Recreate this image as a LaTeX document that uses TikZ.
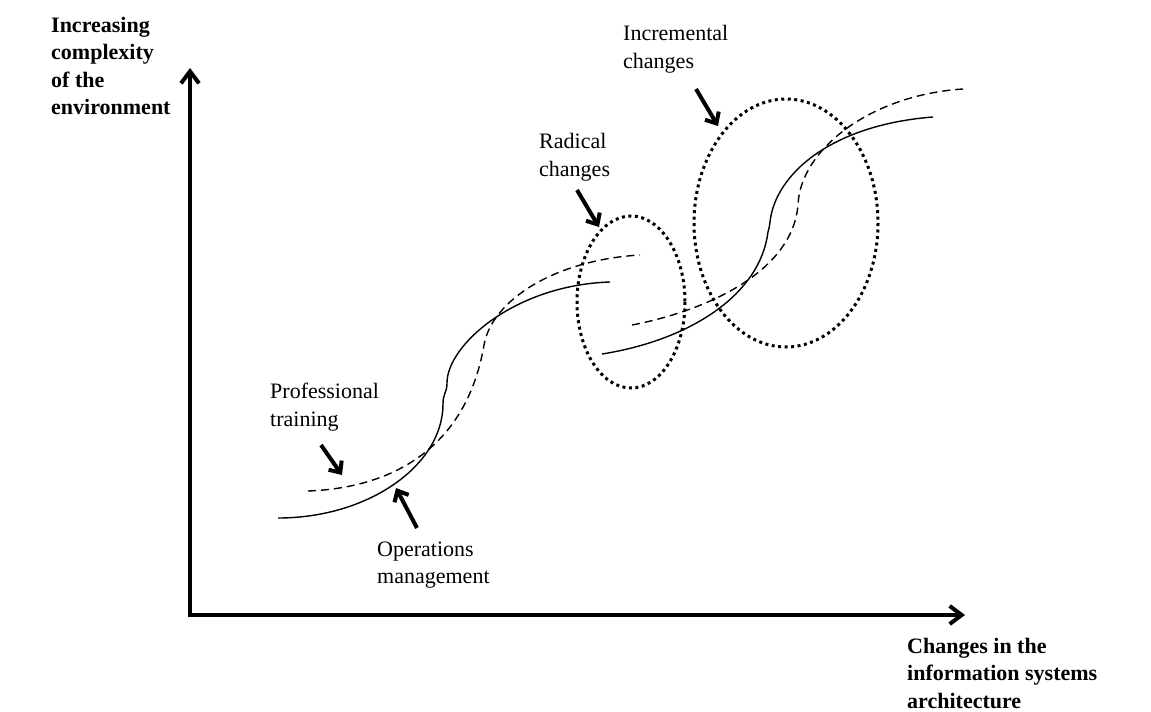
\documentclass[tikz,border=0pt]{standalone}
\usepackage{fontspec}
\setmainfont{Liberation Serif}
\usetikzlibrary{arrows.meta}
\tikzstyle{axis} = [line width=4pt, -{Straight Barb[length=12pt,width=18pt]}]
\tikzstyle{pointer} = [line width=4pt, -{Straight Barb[length=9pt,width=16pt]}]
\tikzstyle{axislabel} = [anchor=west, align=left, inner sep=0pt, font={\fontsize{22}{27.5}\selectfont\bfseries}]
\tikzstyle{curvelabel} = [anchor=west, align=left, inner sep=0pt]
\tikzstyle{zone} = [line width=3pt, dash pattern=on 3pt off 3.5pt]
\tikzstyle{trend} = [line width=1.4pt]
\tikzstyle{plan} = [line width=1.4pt, dash pattern=on 8pt off 5pt]
\tikzset{font={\fontsize{22}{27.5}\selectfont}}

\begin{document}
\begin{tikzpicture}[x=1pt, y=-1pt]
  \useasboundingbox (0,0) rectangle (1151,712);

  % axes
  \coordinate (origin) at (190,615);
  \draw[axis] (190,617) -- (190,68) coordinate (ytop);
  \draw[axis] (origin) -- (965,615) coordinate (xend);
  \node[axislabel] (ylab) at (51,66) {Increasing\\complexity\\of the\\environment};
  \node[axislabel] (xlab) at (907,673) {Changes in the\\information systems\\architecture};

  % first change
  \draw[trend] (278,518) .. controls (369,518) and (443,465) .. (443,404)
    .. controls (443,393) and (447,393) .. (447,383)
    .. controls (447,345) and (515,285) .. (610,282);
  \draw[plan] (308,491) .. controls (390,488) and (466,450) .. (484,345)
    .. controls (492,300) and (555,260) .. (640,255);

  % second change
  \draw[trend] (602,354) .. controls (690,340) and (760,295) .. (768,232)
    .. controls (769,227) and (770,226) .. (770,222)
    .. controls (775,175) and (830,125) .. (933,117);
  \draw[plan] (632,325) .. controls (700,312) and (792,275) .. (798,205)
    .. controls (800,150) and (870,95) .. (963,89);

  % zones
  \draw[zone] (631,302) ellipse [x radius=54, y radius=86];
  \draw[zone] (786,223) ellipse [x radius=92, y radius=124];

  % labels and pointers
  \node[curvelabel] (incr) at (623,49) {Incremental\\changes};
  \node[curvelabel] (rad) at (539,157) {Radical\\changes};
  \node[curvelabel] (prof) at (270,407) {Professional\\training};
  \node[curvelabel] (oper) at (377,565) {Operations\\management};

  \coordinate (incr-tail) at (696,89);
  \coordinate (incr-tip) at (718,126);
  \coordinate (rad-tail) at (577,190);
  \coordinate (rad-tip) at (599,227);
  \coordinate (prof-tail) at (321,445);
  \coordinate (prof-tip) at (342,475);
  \coordinate (oper-tail) at (417,528);
  \coordinate (oper-tip) at (396,488);
  \draw[pointer] (incr-tail) -- (incr-tip);
  \draw[pointer] (rad-tail) -- (rad-tip);
  \draw[pointer] (prof-tail) -- (prof-tip);
  \draw[pointer] (oper-tail) -- (oper-tip);

\end{tikzpicture}
\end{document}
